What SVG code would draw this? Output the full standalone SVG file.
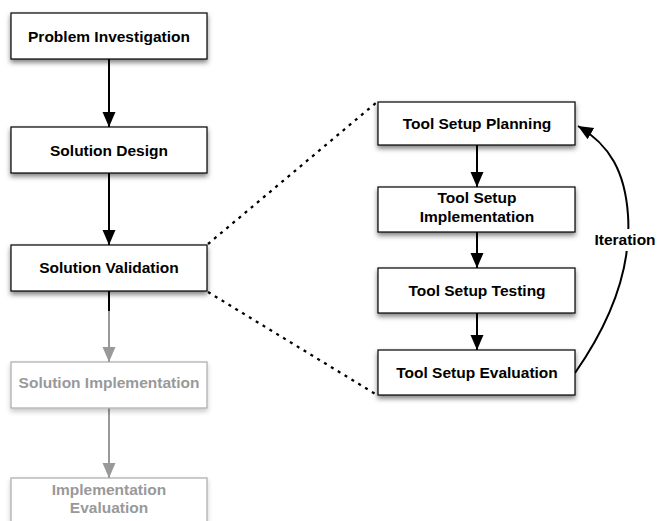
<svg xmlns="http://www.w3.org/2000/svg" width="658" height="521" viewBox="0 0 658 521">
<defs>
<filter id="sh" x="-10%" y="-20%" width="120%" height="160%">
<feDropShadow dx="0" dy="3" stdDeviation="2.5" flood-color="#000" flood-opacity="0.5"/>
</filter>
<filter id="shg" x="-10%" y="-20%" width="120%" height="160%">
<feDropShadow dx="0" dy="3" stdDeviation="2.5" flood-color="#000" flood-opacity="0.22"/>
</filter>
<marker id="ah" markerWidth="18" markerHeight="16" refX="15" refY="7" orient="auto" markerUnits="userSpaceOnUse">
<path d="M0,0.5 L15,7 L0,13.5 Z" fill="#000"/>
</marker>
<marker id="ahg" markerWidth="18" markerHeight="16" refX="15" refY="7" orient="auto" markerUnits="userSpaceOnUse">
<path d="M0,0.5 L15,7 L0,13.5 Z" fill="#999"/>
</marker>
</defs>
<style>
.box{fill:#fff;stroke:#000;stroke-width:1.2;filter:url(#sh)}
.gbox{fill:#fff;stroke:#aaa;stroke-width:1.2;filter:url(#shg)}
text{font-family:"Liberation Sans",Arial,sans-serif;font-weight:bold;font-size:15.5px;text-anchor:middle}
.t{fill:#000}
.gt{fill:#999}
.c{fill:none;stroke:#000;stroke-width:2}
.cg{fill:none;stroke:#999;stroke-width:2}
.d{fill:none;stroke:#000;stroke-width:2.3;stroke-dasharray:3 5}
</style>
<g id="connectors">
<line class="c" x1="109" y1="59" x2="109" y2="127" marker-end="url(#ah)"/>
<line class="c" x1="109" y1="173" x2="109" y2="245" marker-end="url(#ah)"/>
<line class="cg" x1="109" y1="291" x2="109" y2="362" marker-end="url(#ahg)"/>
<line class="c" x1="109" y1="291" x2="109" y2="311"/>
<line class="cg" x1="109" y1="408" x2="109" y2="478" marker-end="url(#ahg)"/>
<line class="c" x1="477" y1="145" x2="477" y2="187" marker-end="url(#ah)"/>
<line class="c" x1="477" y1="232" x2="477" y2="268" marker-end="url(#ah)"/>
<line class="c" x1="477" y1="313" x2="477" y2="350" marker-end="url(#ah)"/>
<line class="d" x1="208" y1="244" x2="377" y2="102"/>
<line class="d" x1="208" y1="292" x2="377" y2="395"/>
<path class="c" d="M575,373 C605,330 632,275 628,215 C625,172 610,145 578,126" marker-end="url(#ah)"/>
<rect x="594" y="229" width="62" height="22" fill="#fff"/>
<text class="t" x="625" y="245">Iteration</text>
</g>
<g id="n1"><rect class="box" x="11" y="13" width="196" height="46"/><text class="t" x="109" y="42">Problem Investigation</text></g>
<g id="n2"><rect class="box" x="11" y="127" width="196" height="46"/><text class="t" x="109" y="156">Solution Design</text></g>
<g id="n3"><rect class="box" x="11" y="245" width="196" height="46"/><text class="t" x="109" y="273">Solution Validation</text></g>
<g id="n4"><rect class="gbox" x="11" y="362" width="196" height="46"/><text class="gt" x="109" y="388">Solution Implementation</text></g>
<g id="n5"><rect class="gbox" x="11" y="478" width="196" height="50"/><text class="gt" x="109" y="495">Implementation</text><text class="gt" x="109" y="513">Evaluation</text></g>
<g id="m1"><rect class="box" x="378" y="102" width="197" height="43"/><text class="t" x="477" y="129">Tool Setup Planning</text></g>
<g id="m2"><rect class="box" x="378" y="187" width="197" height="45"/><text class="t" x="477" y="203">Tool Setup</text><text class="t" x="477" y="222">Implementation</text></g>
<g id="m3"><rect class="box" x="378" y="268" width="197" height="45"/><text class="t" x="477" y="296">Tool Setup Testing</text></g>
<g id="m4"><rect class="box" x="378" y="350" width="197" height="45"/><text class="t" x="477" y="378">Tool Setup Evaluation</text></g>
</svg>
